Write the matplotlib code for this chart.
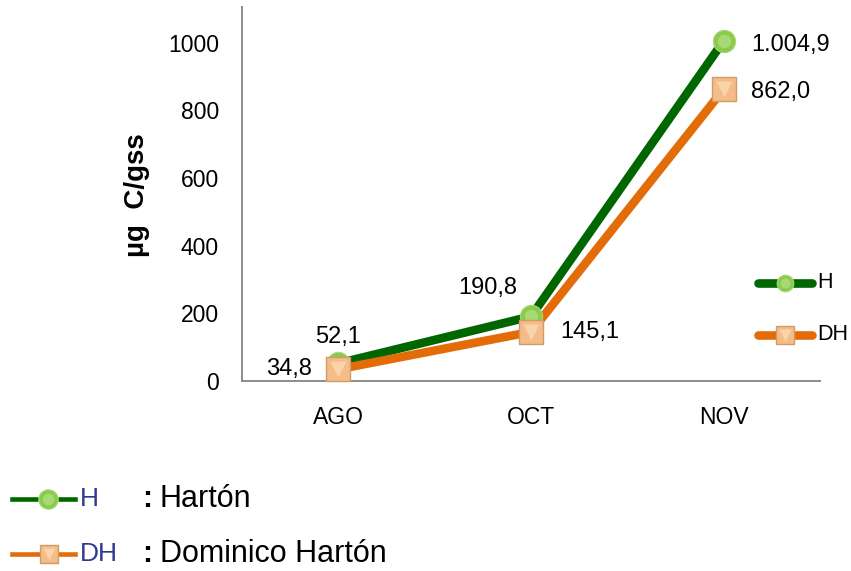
import matplotlib
matplotlib.use("Agg")
import matplotlib.pyplot as plt
from matplotlib.lines import Line2D

plt.rcParams['font.family'] = ['Liberation Sans', 'DejaVu Sans']

months = ["AGO", "OCT", "NOV"]
h_vals = [52.1, 190.8, 1004.9]
dh_vals = [34.8, 145.1, 862.0]
h_labels = ["52,1", "190,8", "1.004,9"]
dh_labels = ["34,8", "145,1", "862,0"]
yticks = [0, 200, 400, 600, 800, 1000]

green_line = "#006600"
green_mark = "#8ACB4E"
green_hi = "#BDE795"
orange_line = "#E36C09"
orange_mark = "#F4BC88"
orange_hi = "#FBD9B5"
orange_edge = "#D39A66"

W, H = 851, 571
fig = plt.figure(figsize=(W / 100, H / 100), dpi=100)
ax = fig.add_axes([242 / W, 1 - 381 / H, (820 - 242) / W, (381 - 7) / H])

x = list(range(len(months)))


def h_marker_artists(xs, ys, size, **kw):
    return [
        Line2D(xs, ys, ls="none", marker="o", ms=size, mfc=green_mark,
               mec="#A9D97A", mew=0.8, zorder=4, clip_on=False, **kw),
        Line2D(xs, ys, ls="none", marker="o", ms=size * 0.6, mfc=green_hi,
               mec="none", alpha=0.55, zorder=4.1, clip_on=False, **kw),
    ]


def dh_marker_artists(xs, ys, size, **kw):
    return [
        Line2D(xs, ys, ls="none", marker="s", ms=size, mfc=orange_mark,
               mec=orange_edge, mew=1.0, zorder=5, clip_on=False, **kw),
        Line2D(xs, ys, ls="none", marker="v", ms=size * 0.7, mfc=orange_hi,
               mec="none", alpha=0.8, zorder=5.1, clip_on=False, **kw),
    ]


ax.plot(x, h_vals, color=green_line, lw=6.2, solid_capstyle="round", zorder=3,
        clip_on=False)
ax.plot(x, dh_vals, color=orange_line, lw=6.2, solid_capstyle="round", zorder=3,
        clip_on=False)
for art in h_marker_artists(x, h_vals, 16) + dh_marker_artists(x, dh_vals, 17):
    ax.add_line(art)

# value annotations
fs = 17
ax.annotate(h_labels[0], (x[0], h_vals[0]), xytext=(0, 15), textcoords="offset points",
            ha="center", va="baseline", fontsize=fs)
ax.annotate(dh_labels[0], (x[0], dh_vals[0]), xytext=(-19, 0), textcoords="offset points",
            ha="right", va="center", fontsize=fs)
ax.annotate(h_labels[1], (x[1], h_vals[1]), xytext=(-10, 16), textcoords="offset points",
            ha="right", va="baseline", fontsize=fs)
ax.annotate(dh_labels[1], (x[1], dh_vals[1]), xytext=(21, 0), textcoords="offset points",
            ha="left", va="center", fontsize=fs)
ax.annotate(h_labels[2], (x[2], h_vals[2]), xytext=(20, -3), textcoords="offset points",
            ha="left", va="center", fontsize=fs)
ax.annotate(dh_labels[2], (x[2], dh_vals[2]), xytext=(20, -2), textcoords="offset points",
            ha="left", va="center", fontsize=fs)

ax.set_xlim(-0.5, 2.5)
ax.set_ylim(0, 1105)
ax.set_xticks(x)
ax.set_xticklabels(months, fontsize=16.5)
ax.set_yticks(yticks)
ax.set_yticklabels([str(v) for v in yticks], fontsize=16.5)
ax.tick_params(length=0)
ax.tick_params(axis="y", pad=16.5)
ax.tick_params(axis="x", pad=18)
for s in ("top", "right"):
    ax.spines[s].set_visible(False)
for s in ("left", "bottom"):
    ax.spines[s].set_color("#8C8C8C")
    ax.spines[s].set_linewidth(1.4)

fig.text(137 / W, 1 - 195 / H, "µg  C/gss", fontsize=20, fontweight="bold",
         rotation=90, ha="center", va="center")

tf = fig.transFigure

# series key inside the plot area
for ypix, color, code in [(283, green_line, "H"), (335, orange_line, "DH")]:
    yf = 1 - ypix / H
    fig.add_artist(Line2D([758 / W, 812 / W], [yf, yf], color=color, lw=6.2,
                          solid_capstyle="round"))
    fig.text(817 / W, yf, code, fontsize=15.5, va="center", ha="left")
for art in (h_marker_artists([785 / W], [1 - 283 / H], 12, transform=tf)
            + dh_marker_artists([785 / W], [1 - 335 / H], 13, transform=tf)):
    fig.add_artist(art)

# key below the chart
for ypix, color, code, name in [(499, green_line, "H", "Hartón"),
                                (554, orange_line, "DH", "Dominico Hartón")]:
    yf = 1 - ypix / H
    fig.add_artist(Line2D([12 / W, 75 / W], [yf, yf], color=color, lw=3.3))
    fig.text(80 / W, yf, code, fontsize=19, color="#2E3A8C",
             va="center", ha="left")
    fig.text(142 / W, yf, ":", fontsize=22, fontweight="bold",
             va="center", ha="left")
    fig.text(160 / W, yf, name, fontsize=22, va="center", ha="left")
for art in (h_marker_artists([48 / W], [1 - 499 / H], 14, transform=tf)
            + dh_marker_artists([49 / W], [1 - 554 / H], 13, transform=tf)):
    fig.add_artist(art)

fig.savefig("out.png", dpi=100, facecolor="white")
